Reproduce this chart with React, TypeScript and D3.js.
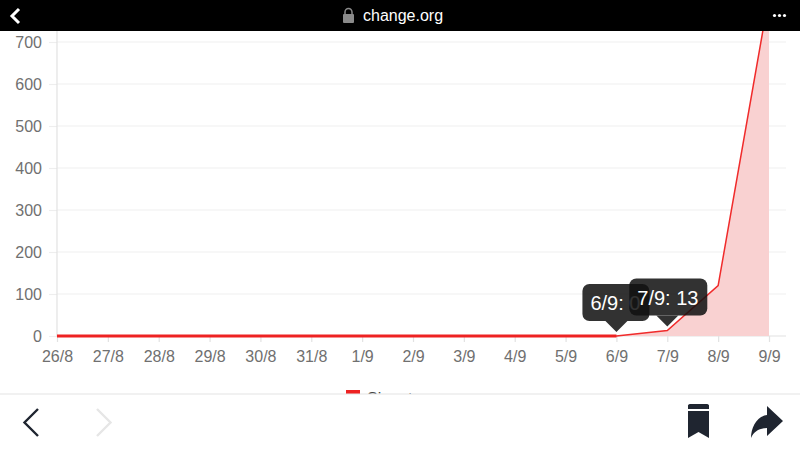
import React, { useRef, useEffect } from "react";
import * as d3 from "d3";

const days = ["26/8", "27/8", "28/8", "29/8", "30/8", "31/8", "1/9", "2/9", "3/9", "4/9", "5/9", "6/9", "7/9", "8/9", "9/9"];
const signatures = [0, 0, 0, 0, 0, 0, 0, 0, 0, 0, 0, 0, 13, 120, 810];
const yTicks = [0, 100, 200, 300, 400, 500, 600, 700];
const tooltipDays = ["6/9", "7/9"];
const seriesName = "Signatures";

const width = 800;
const height = 450;
const FONT = "'Liberation Sans', Arial, sans-serif";

const App: React.FC = () => {
  const svgRef = useRef<SVGSVGElement | null>(null);

  useEffect(() => {
    if (!svgRef.current) return;
    const svg = d3.select(svgRef.current);
    svg.selectAll("*").remove();

    const x = d3.scalePoint<string>().domain(days).range([57, 769]);
    const y = d3.scaleLinear().domain([0, 700]).range([336, 42]);

    svg.append("rect").attr("width", width).attr("height", height).attr("fill", "#fff");

    // y axis with gridlines
    const yAxis = svg.append("g")
      .attr("transform", "translate(57,0)")
      .call(d3.axisLeft(y).tickValues(yTicks).tickSize(8).tickPadding(7));
    yAxis.select(".domain").remove();
    yAxis.selectAll("line").attr("stroke", "#eeeeee").attr("stroke-width", 1.2);
    yAxis.selectAll("text").attr("fill", "#707070").attr("font-size", 16).attr("font-family", FONT);

    svg.append("g").selectAll("line").data(yTicks).enter().append("line")
      .attr("x1", 57)
      .attr("x2", 786)
      .attr("y1", (d) => y(d))
      .attr("y2", (d) => y(d))
      .attr("stroke", (d) => (d === 0 ? "#e2e2e2" : "#f0f0f0"))
      .attr("stroke-width", 1.2);

    svg.append("line")
      .attr("x1", 57).attr("x2", 57).attr("y1", 31).attr("y2", 336)
      .attr("stroke", "#e2e2e2").attr("stroke-width", 1.2);

    // x axis
    const xAxis = svg.append("g")
      .attr("transform", "translate(0,336)")
      .call(d3.axisBottom(x).tickSize(6).tickPadding(9));
    xAxis.select(".domain").remove();
    xAxis.selectAll("line").attr("stroke", "#e2e2e2").attr("stroke-width", 1.2);
    xAxis.selectAll("text").attr("fill", "#707070").attr("font-size", 16).attr("font-family", FONT);

    // area and line
    const area = d3.area<number>()
      .x((_, i) => x(days[i]) as number)
      .y0(y(0))
      .y1((d) => y(d));
    svg.append("path").datum(signatures).attr("d", area).attr("fill", "#f9d1d1");

    const line = d3.line<number>()
      .x((_, i) => x(days[i]) as number)
      .y((d) => y(d));
    svg.append("path").datum(signatures).attr("d", line)
      .attr("fill", "none").attr("stroke", "#f02b2b").attr("stroke-width", 1.5);

    // the zero run looks heavier since it sits on the baseline
    const zeros = signatures.filter((d) => d === 0);
    svg.append("path").datum(zeros).attr("d", line)
      .attr("fill", "none").attr("stroke", "#ee2222").attr("stroke-width", 3);

    // tooltips, the later one lies over the earlier one
    tooltipDays.forEach((day) => {
      const v = signatures[days.indexOf(day)];
      const px = x(day) as number;
      const py = y(v) - 4;
      const label = `${day}: ${v}`;
      const w = v > 0 ? 78 : 67;
      const left = v > 0 ? px - 38 : px - 34;
      const g = svg.append("g").attr("opacity", 0.86);
      g.append("rect")
        .attr("x", left).attr("y", py - 48)
        .attr("width", w).attr("height", 37).attr("rx", 7)
        .attr("fill", "#111");
      g.append("path")
        .attr("d", `M${px - 11},${py - 11}L${px},${py}L${px + 11},${py - 11}Z`)
        .attr("fill", "#111");
      svg.append("text")
        .attr("x", left + 8).attr("y", py - 22)
        .attr("fill", "#fff")
        .attr("font-size", 20)
        .attr("font-family", FONT)
        .text(label);
    });

    // legend, cut off by the bottom bar
    svg.append("rect").attr("x", 346).attr("y", 390).attr("width", 14).attr("height", 8).attr("fill", "#ee2222");
    svg.append("text").attr("x", 367).attr("y", 404)
      .attr("fill", "#444").attr("font-size", 16).attr("font-family", FONT).text(seriesName);

    // top browser bar
    svg.append("rect").attr("width", width).attr("height", 31).attr("fill", "#000");
    svg.append("path").attr("d", "M19,9L12,16L19,23")
      .attr("fill", "none").attr("stroke", "#fff").attr("stroke-width", 3);
    svg.append("rect").attr("x", 343).attr("y", 14).attr("width", 11).attr("height", 9).attr("rx", 1).attr("fill", "#8a8a8a");
    svg.append("path").attr("d", "M345,14V12a3.5,3.5 0 0 1 7,0V14")
      .attr("fill", "none").attr("stroke", "#8a8a8a").attr("stroke-width", 1.5);
    svg.append("text").attr("x", 363).attr("y", 21)
      .attr("fill", "#fff").attr("font-size", 16).attr("font-family", FONT).text("change.org");
    [0, 1, 2].forEach((i) => {
      svg.append("circle").attr("cx", 774.5 + i * 5).attr("cy", 15.5).attr("r", 1.6).attr("fill", "#fff");
    });

    // bottom browser bar
    svg.append("rect").attr("y", 394).attr("width", width).attr("height", 56).attr("fill", "#fff");
    svg.append("line").attr("x1", 0).attr("x2", width).attr("y1", 394).attr("y2", 394)
      .attr("stroke", "#e3e3e3").attr("stroke-width", 1.2);
    svg.append("path").attr("d", "M38,409L24.5,422.5L38,436")
      .attr("fill", "none").attr("stroke", "#1f2530").attr("stroke-width", 2.4);
    svg.append("path").attr("d", "M97,409L110.5,422.5L97,436")
      .attr("fill", "none").attr("stroke", "#e6e6e6").attr("stroke-width", 2.4);
    svg.append("path").attr("d", "M688,406.5a2,2 0 0 1 2,-2.5H707a2,2 0 0 1 2,2.5V409H688Z").attr("fill", "#1f2530");
    svg.append("path").attr("d", "M688,411H709V438L698.5,432L688,438Z").attr("fill", "#1f2530");
    svg.append("path").attr("d", "M767,406L783,421L767,436V428C760,428 754,431 751,438C751,427 757,416 767,415Z").attr("fill", "#1f2530");
  }, []);

  return (
    <svg
      ref={svgRef}
      width={width}
      height={height}
      style={{ display: "block", position: "absolute", left: 0, top: 0 }}
    />
  );
};

export default App;
